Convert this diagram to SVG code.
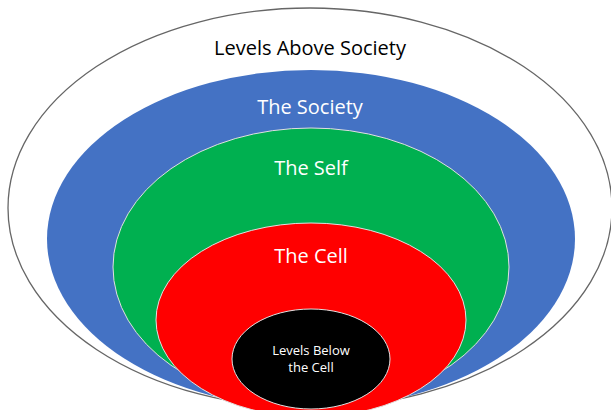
<svg xmlns="http://www.w3.org/2000/svg" width="611" height="410" viewBox="0 0 611 410">
<style>
text { font-family: "Open Sans", "Liberation Sans", sans-serif; text-anchor: middle; }
.big { font-size: 20px; }
.small { font-size: 13px; fill: #fff; }
.inner { stroke: #e0e0e0; stroke-width: 1; }
</style>
<rect width="611" height="410" fill="#fff"/>
<g id="levels-above-society">
<ellipse cx="310" cy="208" rx="302" ry="200" fill="#fff" stroke="#666" stroke-width="1.3"/>
<text class="big" x="310" y="55" fill="#000">Levels Above Society</text>
</g>
<g id="the-society">
<ellipse cx="311" cy="239" rx="264" ry="169" fill="#4472C4"/>
<text class="big" x="310" y="114" fill="#fff">The Society</text>
</g>
<g id="the-self">
<ellipse cx="311" cy="267" rx="198" ry="139" fill="#00B050" class="inner"/>
<text class="big" x="311" y="175" fill="#fff">The Self</text>
</g>
<g id="the-cell">
<ellipse cx="311" cy="320" rx="155" ry="97" fill="#FF0000" class="inner"/>
<text class="big" x="311" y="263" fill="#fff">The Cell</text>
</g>
<g id="levels-below-the-cell">
<ellipse cx="311" cy="359" rx="79" ry="50" fill="#000" class="inner"/>
<text class="small" x="311" y="355">Levels Below</text>
<text class="small" x="311" y="372">the Cell</text>
</g>
</svg>
